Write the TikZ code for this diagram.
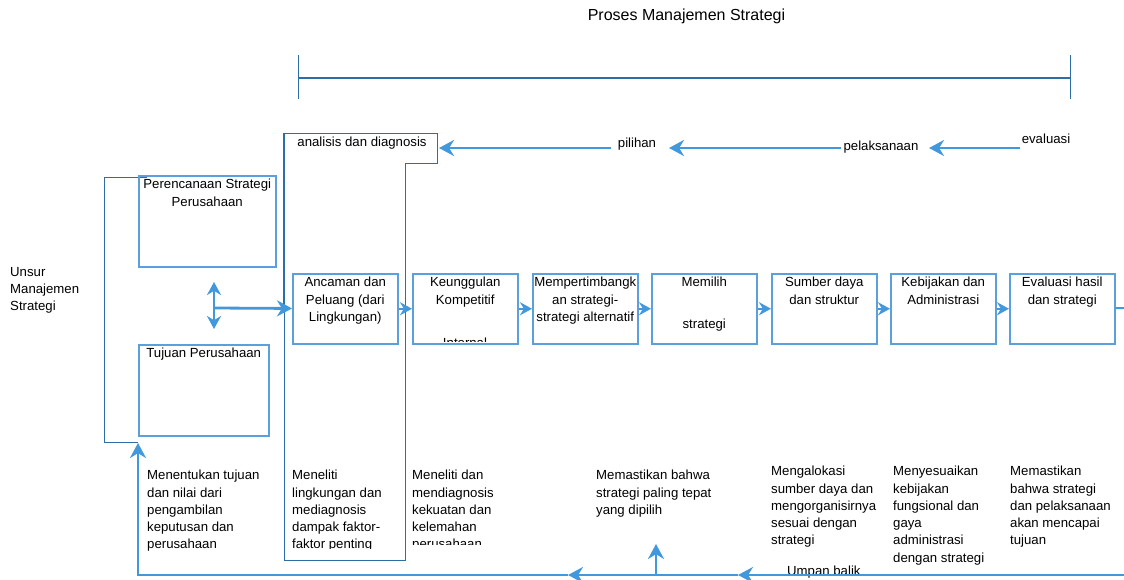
\documentclass[tikz,border=0pt]{standalone}
\usepackage{fontspec}
\setmainfont{Liberation Sans}
\usetikzlibrary{arrows.meta,positioning}

\definecolor{lineblue}{RGB}{66,152,221}
\definecolor{boxblue}{RGB}{91,160,220}
\definecolor{darkblue}{RGB}{46,110,166}
\newcommand{\bodyfont}{\fontsize{13.2}{17.3}\selectfont}

\tikzset{
  pbox/.style={draw=boxblue, line width=1.5pt, minimum width=105pt, minimum height=70pt, inner sep=0pt, anchor=north west},
  ptext/.style={align=center, inner sep=0pt, anchor=north, font=\bodyfont},
  ntext/.style={align=left, inner sep=0pt, anchor=north west, font=\bodyfont},
  label text/.style={inner sep=0pt, anchor=base, font=\bodyfont},
  flow/.style={draw=lineblue, line width=2.8pt, -{Stealth[length=15pt,width=16pt]}},
  small flow/.style={draw=lineblue, line width=2pt, -{Stealth[length=12pt,width=13pt]}},
}

\begin{document}
\begin{tikzpicture}[x=1pt, y=-1pt]
    \useasboundingbox (0,0) rectangle (1124,579);

    % judul dan kurung
    \node[label text, font=\fontsize{16}{19}\selectfont] (judul) at (686.5,20) {Proses Manajemen Strategi};
    \draw[darkblue, line width=1.6pt] (298,78) -- (1070,78);
    \draw[darkblue, line width=1pt] (298,55) -- (298,99) (1070,55) -- (1070,99);

    % baris atas
    \node[label text] (evaluasi) at (1046,143) {evaluasi};
    \node[label text] (pelaksanaan) at (881,150) {pelaksanaan};
    \node[label text] (pilihan) at (637,147) {pilihan};
    \coordinate (evaA) at (1020,148);
    \coordinate (evaB) at (929,148);
    \coordinate (pelA) at (841,148);
    \coordinate (pelB) at (669,148);
    \coordinate (pilA) at (611,148);
    \coordinate (pilB) at (439,148);
    \draw[flow] (evaA) -- (evaB);
    \draw[flow] (pelA) -- (pelB);
    \draw[flow] (pilA) -- (pilB);

    % analisis dan diagnosis
    \node[ptext] (analisis) at (362,136.5) {analisis dan diagnosis};
    \draw[darkblue, line width=1pt] (284,133) -- (437,133) -- (437,163) -- (405,163)
    -- (405,560) -- (284,560) -- cycle;
    \draw[darkblue, line width=2.4pt] (284,133) -- (284,310);

    % unsur
    \node[ntext] (unsur) at (10,267) {Unsur\\Manajemen\\Strategi};
    \draw[darkblue, line width=1pt] (147,177) -- (104,177) -- (104,442) -- (138,442);

    \node[pbox, minimum width=137pt, minimum height=91pt] (rencana) at (138,175) {};
    \node[ptext, below=4pt of rencana.north] (rencanaT) {Perencanaan Strategi\\Perusahaan};
    \node[pbox, minimum width=130pt, minimum height=91pt] (tujuan) at (138,344) {};
    \node[ptext, below=4pt of tujuan.north] (tujuanT) {Tujuan Perusahaan};

    % kotak proses
    \foreach \n/\x in {ancaman/292,unggul/412,timbang/532,pilih/651,sumber/771,bijak/890,hasil/1009}
    \node[pbox] (\n) at (\x,273) {};

    \node[ptext, below=4pt of ancaman.north] (ancamanT) {Ancaman dan\\Peluang (dari\\Lingkungan)};
    \node[ptext, below=4pt of unggul.north] (unggulT) {Keunggulan\\Kompetitif};
    \node[ptext, below=4pt of timbang.north] (timbangT) {Mempertimbangk\\an strategi-\\strategi alternatif};
    \node[ptext, below=4pt of pilih.north] (pilihT) {Memilih\\[24pt]strategi};
    \node[ptext, below=4pt of sumber.north] (sumberT) {Sumber daya\\dan struktur};
    \node[ptext, below=4pt of bijak.north] (bijakT) {Kebijakan dan\\Administrasi};
    \node[ptext, below=4pt of hasil.north] (hasilT) {Evaluasi hasil\\dan strategi};
    \begin{scope}
      \clip (412,273) rectangle (517,341.3);
      \node[ptext] (internal) at (465,338) {Internal};
    \end{scope}

    \foreach \a/\b in {ancaman/unggul,unggul/timbang,timbang/pilih,pilih/sumber,sumber/bijak,bijak/hasil}
    \draw[small flow] (\a) -- (\b);
    \coordinate (ujung) at (1124,308);
    \draw[draw=lineblue, line width=2pt] (hasil) -- (ujung);

    % panah ganda
    \coordinate (panA) at (214,282);
    \coordinate (panB) at (214,329);
    \coordinate (panC) at (214,308);
    \draw[draw=lineblue, line width=2.8pt, {Stealth[length=13pt,width=14pt]}-{Stealth[length=13pt,width=14pt]}] (panA) -- (panB);
    \draw[flow] (panC) -- (ancaman);

    % keterangan bawah
    \node[ntext] (ket1) at (147,470) {Menentukan tujuan\\dan nilai dari\\pengambilan\\keputusan dan\\perusahaan};
    \begin{scope}
      \clip (286,460) rectangle (404,548);
      \node[ntext] (ket2) at (292,470) {Meneliti\\lingkungan dan\\mediagnosis\\dampak faktor-\\faktor penting};
    \end{scope}
    \begin{scope}
      \clip (407,460) rectangle (520,544.5);
      \node[ntext] (ket3) at (412,470) {Meneliti dan\\mendiagnosis\\kekuatan dan\\kelemahan\\perusahaan};
    \end{scope}
    \node[ntext] (ket4) at (596,470) {Memastikan bahwa\\strategi paling tepat\\yang dipilih};
    \node[ntext] (ket5) at (771,466) {Mengalokasi\\sumber daya dan\\mengorganisirnya\\sesuai dengan\\strategi};
    \node[ntext] (ket6) at (893,466) {Menyesuaikan\\kebijakan\\fungsional dan\\gaya\\administrasi\\dengan strategi};
    \node[ntext] (ket7) at (1010,466) {Memastikan\\bahwa strategi\\dan pelaksanaan\\akan mencapai\\tujuan};
    \node[ntext] (umpan) at (787,566) {Umpan balik};

    % umpan balik
    \coordinate (fbA) at (1124,575);
    \coordinate (fbB) at (738,575);
    \coordinate (fbC) at (568,575);
    \coordinate (fbD) at (138,575);
    \coordinate (fbE) at (138,443);
    \coordinate (upA) at (656,575);
    \coordinate (upB) at (656,544);
    \draw[flow] (fbA) -- (fbB);
    \draw[flow] (fbB) -- (fbC);
    \draw[flow] (fbC) -- (fbD) -- (fbE);
    \draw[flow] (upA) -- (upB);

\end{tikzpicture}
\end{document}
